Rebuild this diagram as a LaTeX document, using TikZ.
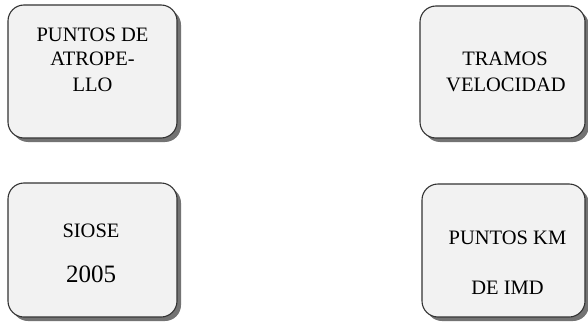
\documentclass[tikz,border=0pt]{standalone}
\usepackage{fontspec}
\setmainfont{Liberation Serif}
\usetikzlibrary{shadows}
\begin{document}
\begin{tikzpicture}[x=1pt,y=1pt,
  boxstyle/.style={draw=black!80, line width=1.1pt, fill=black!5, rounded corners=16pt,
    drop shadow={shadow xshift=4pt, shadow yshift=-4pt, fill=black!55, opacity=1},
    inner sep=0pt, minimum width=#1},
  lbl/.style={anchor=base, inner sep=0pt, font=\fontsize{20.5}{24}\selectfont},
  big/.style={anchor=base, inner sep=0pt, font=\fontsize{25}{30}\selectfont}]
\useasboundingbox (0,0) rectangle (588,322);
% boxes (y = 322 - pixel y)
\node[boxstyle=169pt, minimum height=133pt] (b1) at (92.5,250.5) {};
\node[boxstyle=165pt, minimum height=132pt] (b2) at (502.5,250) {};
\node[boxstyle=169pt, minimum height=134pt] (b3) at (92.5,72) {};
\node[boxstyle=163pt, minimum height=133pt] (b4) at (503.5,71.5) {};
% texts
\node[lbl] (t1a) at (92.5,280) {PUNTOS DE};
\node[lbl] (t1b) at (92.5,256) {ATROPE-};
\node[lbl] (t1c) at (92.5,231) {LLO};
\node[lbl] (t2a) at (505,256) {TRAMOS};
\node[lbl] (t2b) at (506,231) {VELOCIDAD};
\node[lbl] (t3a) at (91,85) {SIOSE};
\node[big] (t3b) at (91,40) {2005};
\node[lbl] (t4a) at (507.5,78) {PUNTOS KM};
\node[lbl] (t4b) at (507.5,28) {DE IMD};
\end{tikzpicture}
\end{document}
